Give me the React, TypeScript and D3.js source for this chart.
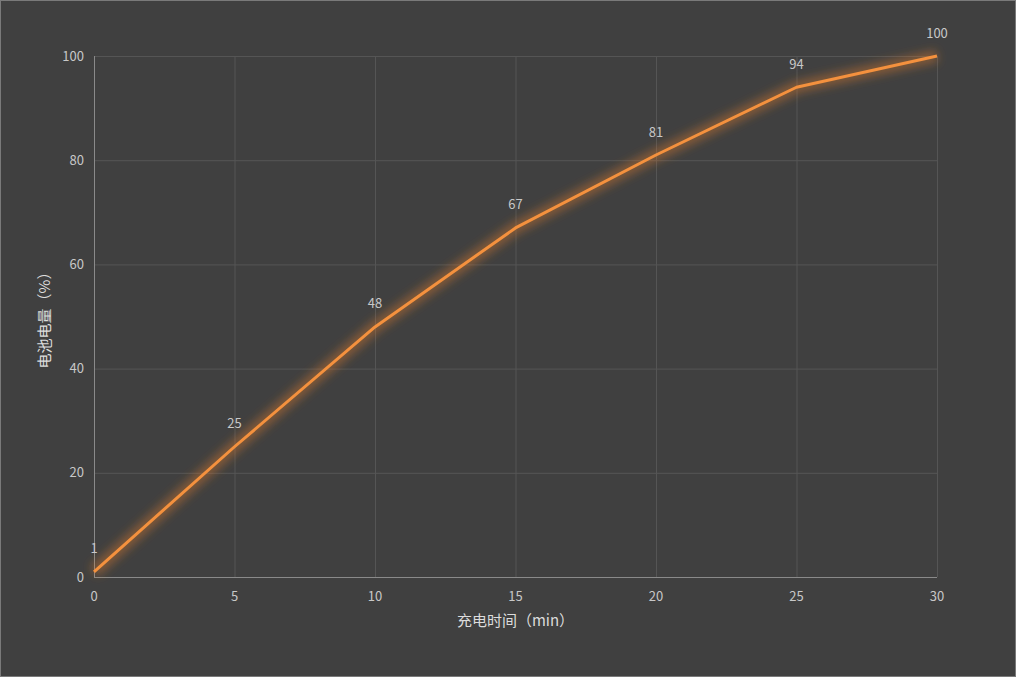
import React from "react";
import * as d3 from "d3";

const minutes = [0, 5, 10, 15, 20, 25, 30];
const battery = [1, 25, 48, 67, 81, 94, 100];
const xTicks = [0, 5, 10, 15, 20, 25, 30];
const yTicks = [0, 20, 40, 60, 80, 100];
const xTitle = "充电时间（min）";
const yTitle = "电池电量（%）";

const W = 1016, H = 677;
const M = { left: 94, right: 79, top: 56, bottom: 100 };

export default function App() {
  const x = d3.scaleLinear().domain([0, 30]).range([M.left, W - M.right]);
  const y = d3.scaleLinear().domain([0, 100]).range([H - M.bottom, M.top]);
  const pts: [number, number][] = minutes.map((m, i) => [m, battery[i]]);
  const line = d3.line<[number, number]>().x(d => x(d[0])).y(d => y(d[1]));
  const font = "'Noto Sans CJK SC', 'Microsoft YaHei', sans-serif";
  return (
    <svg width={W} height={H} style={{ position: "absolute", left: 0, top: 0 }} fontFamily={font}>
      <defs>
        <filter id="glow" x="-10%" y="-10%" width="120%" height="120%">
          <feGaussianBlur stdDeviation="5" />
        </filter>
      </defs>
      <rect x={0.5} y={0.5} width={W - 1} height={H - 1} fill="#404040" stroke="#7a7a7a" />
      {xTicks.map(t => (
        <line key={"gx" + t} x1={x(t) + 0.5} x2={x(t) + 0.5} y1={y(0)} y2={y(100)} stroke="#555" />
      ))}
      {yTicks.map(t => (
        <line key={"gy" + t} x1={x(0)} x2={x(30)} y1={y(t) + 0.5} y2={y(t) + 0.5} stroke="#555" />
      ))}
      <line x1={x(0) + 0.5} x2={x(0) + 0.5} y1={y(0)} y2={y(100)} stroke="#8a8a8a" />
      <line x1={x(0)} x2={x(30)} y1={y(0) + 0.5} y2={y(0) + 0.5} stroke="#8a8a8a" />
      {yTicks.map(t => (
        <text key={"ty" + t} x={x(0) - 10} y={y(t)} dy="0.35em" textAnchor="end" fill="#c8c8c8" fontSize={13}>{t}</text>
      ))}
      {xTicks.map(t => (
        <text key={"tx" + t} x={x(t)} y={y(0) + 19} dy="0.35em" textAnchor="middle" fill="#c8c8c8" fontSize={13}>{t}</text>
      ))}
      <path d={line(pts) || ""} fill="none" stroke="#d9792a" strokeOpacity={0.45} strokeWidth={12} filter="url(#glow)" />
      <path d={line(pts) || ""} fill="none" stroke="#f4913e" strokeWidth={3} strokeLinejoin="round" />
      {pts.map(([m, v]) => (
        <text key={"l" + m} x={x(m)} y={y(v) - 23} dy="0.35em" textAnchor="middle" fill="#c8c8c8" fontSize={13}>{v}</text>
      ))}
      <text x={(x(0) + x(30)) / 2} y={621} dy="0.35em" textAnchor="middle" fill="#dcdcdc" fontSize={15}>{xTitle}</text>
      <text transform={`translate(45, ${(y(0) + y(100)) / 2}) rotate(-90)`} dy="0.35em" textAnchor="middle" fill="#dcdcdc" fontSize={15}>{yTitle}</text>
    </svg>
  );
}
